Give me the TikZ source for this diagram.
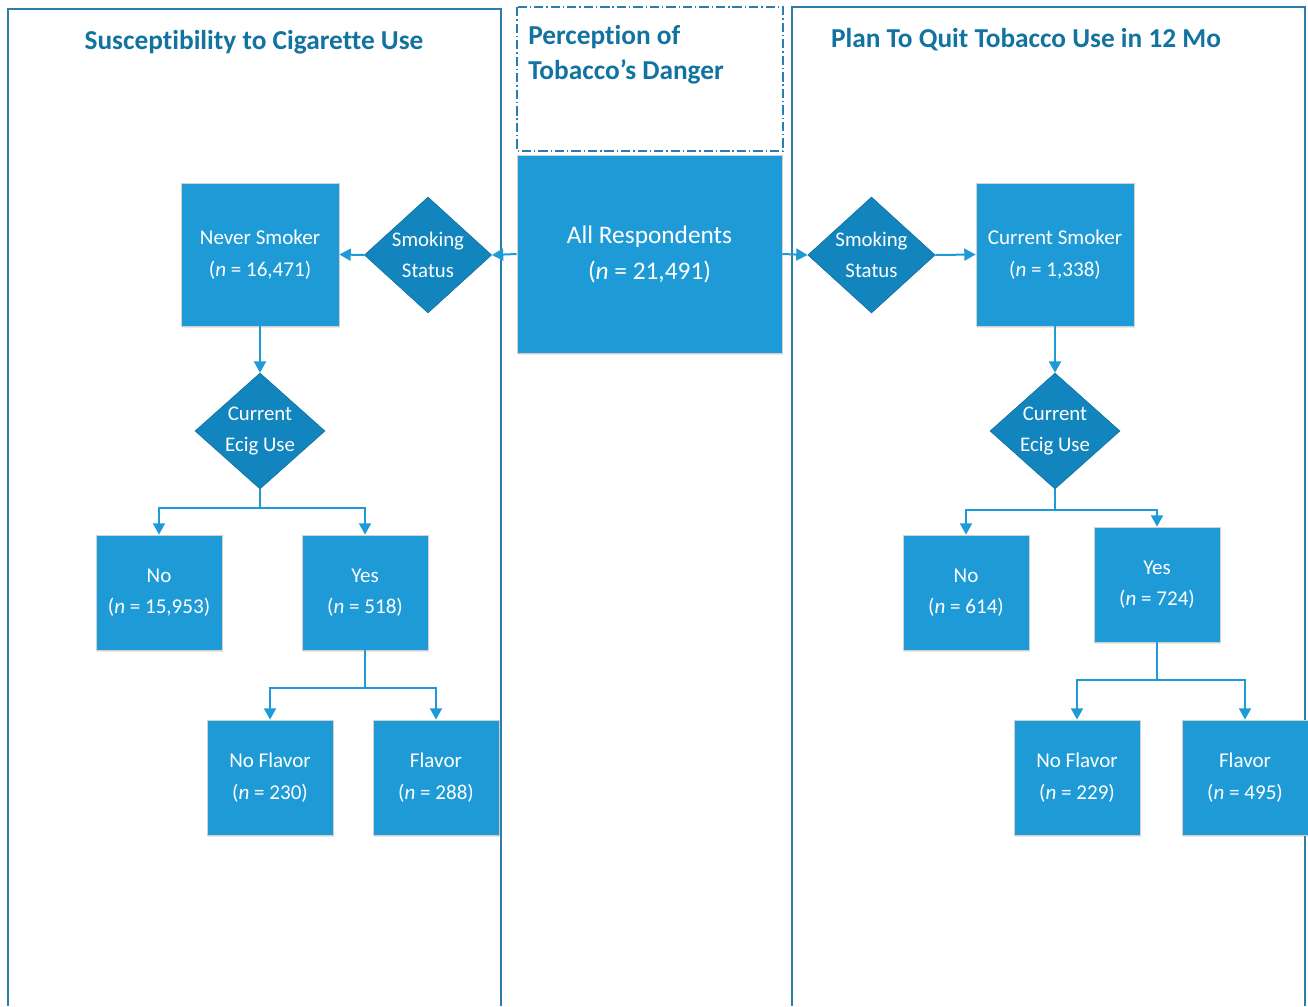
\documentclass[tikz,border=0pt]{standalone}
\usepackage{fontspec}
\setmainfont{Carlito}[RawFeature=-liga]
\usetikzlibrary{shapes.geometric,arrows.meta,shadows}
\definecolor{boxblue}{HTML}{1E9BD7}
\definecolor{diablue}{HTML}{1385BE}
\definecolor{titleblue}{HTML}{1273A0}
\definecolor{panelline}{HTML}{2C7DAA}
\tikzset{
  box/.style={rectangle, fill=boxblue, draw=black!18, line width=0.6pt, text=white,
    font=\fontsize{15.8}{23.5}\selectfont, align=center, inner sep=0pt,
    drop shadow={opacity=0.18, shadow xshift=0.8pt, shadow yshift=-1.6pt}},
  smallbox/.style={box, minimum width=94.5pt, minimum height=86.25pt},
  bigbox/.style={box, minimum width=118.5pt, minimum height=107.25pt},
  decision/.style={diamond, aspect=1.1, fill=diablue, draw=diablue!80!black, line width=0.4pt,
    text=white, font=\fontsize{15.6}{23}\selectfont, align=center, inner sep=0pt,
    minimum width=95.5pt, minimum height=87pt},
  conn/.style={draw=boxblue, line width=1.5pt, -{Triangle[length=8.5pt,width=9pt]}},
  plain/.style={draw=boxblue, line width=1.5pt},
  panel/.style={draw=panelline, line width=1pt},
  title/.style={text=titleblue, font=\fontsize{20.5}{26.5}\selectfont\bfseries},
}
\newcommand{\nn}[1]{(\textit{n} = #1)}
\begin{document}
\begin{tikzpicture}[x=0.75pt,y=-0.75pt]
\useasboundingbox (0,0) rectangle (1308,1006);
% panels
\draw[panel] (8,1006) -- (8,9) -- (501,9) -- (501,1006);
\draw[panel] (792,1006) -- (792,7) -- (1305,7) -- (1305,1006);
\draw[draw=panelline, line width=0.8pt, dash pattern=on 7pt off 2.2pt on 1pt off 2.2pt] (517,7) rectangle (783,151);
% titles
\node[title, anchor=center] (tL) at (254,42) {Susceptibility to Cigarette Use};
\node[title, anchor=west, align=left, inner sep=0pt] (tM) at (528,55) {Perception of\\Tobacco’s Danger};
\node[title, anchor=center] (tR) at (1026,40) {Plan To Quit Tobacco Use in 12 Mo};
% centre
\node[box, minimum width=198.75pt, minimum height=148.5pt, font=\fontsize{19}{27}\selectfont] (all) at (649.5,254) {All Respondents\\\nn{21,491}};
% left
\node[decision] (smokL) at (428,255) {Smoking\\Status};
\node[bigbox] (never) at (260,254.5) {Never Smoker\\\nn{16,471}};
\node[decision, aspect=1.12, minimum width=97.5pt] (ecigL) at (260,431) {Current\\Ecig Use};
\node[smallbox] (noL) at (159,592.5) {No\\\nn{15,953}};
\node[smallbox] (yesL) at (365,592.5) {Yes\\\nn{518}};
\node[smallbox] (nfL) at (270,777.5) {No Flavor\\\nn{230}};
\node[smallbox] (flL) at (436,777.5) {Flavor\\\nn{288}};
% right
\node[decision] (smokR) at (871.5,255) {Smoking\\Status};
\node[bigbox] (curr) at (1055,254.5) {Current Smoker\\\nn{1,338}};
\node[decision, aspect=1.12, minimum width=97.5pt] (ecigR) at (1055,431) {Current\\Ecig Use};
\node[smallbox] (noR) at (966,592.5) {No\\\nn{614}};
\node[smallbox] (yesR) at (1157,584.5) {Yes\\\nn{724}};
\node[smallbox] (nfR) at (1077,777.5) {No Flavor\\\nn{229}};
\node[smallbox] (flR) at (1245,777.5) {Flavor\\\nn{495}};
% connectors left
\draw[conn] (all.west) -- (smokL.east);
\draw[conn] (smokL.west) -- (never.east);
\draw[conn] (never.south) -- (ecigL.north);
\draw[plain] (ecigL.south) -- ++(0,19) coordinate (jL1);
\draw[conn] (jL1) -| (noL.north);
\draw[conn] (jL1) -| (yesL.north);
\draw[plain] (yesL.south) -- ++(0,38) coordinate (jL2);
\draw[conn] (jL2) -| (nfL.north);
\draw[conn] (jL2) -| (flL.north);
% connectors right
\draw[conn] (all.east) -- (smokR.west);
\draw[conn] (smokR.east) -- (curr.west);
\draw[conn] (curr.south) -- (ecigR.north);
\draw[plain] (ecigR.south) -- ++(0,21) coordinate (jR1);
\draw[conn] (jR1) -| (noR.north);
\draw[conn] (jR1) -| (yesR.north);
\draw[plain] (yesR.south) -- ++(0,38) coordinate (jR2);
\draw[conn] (jR2) -| (nfR.north);
\draw[conn] (jR2) -| (flR.north);
\end{tikzpicture}
\end{document}
